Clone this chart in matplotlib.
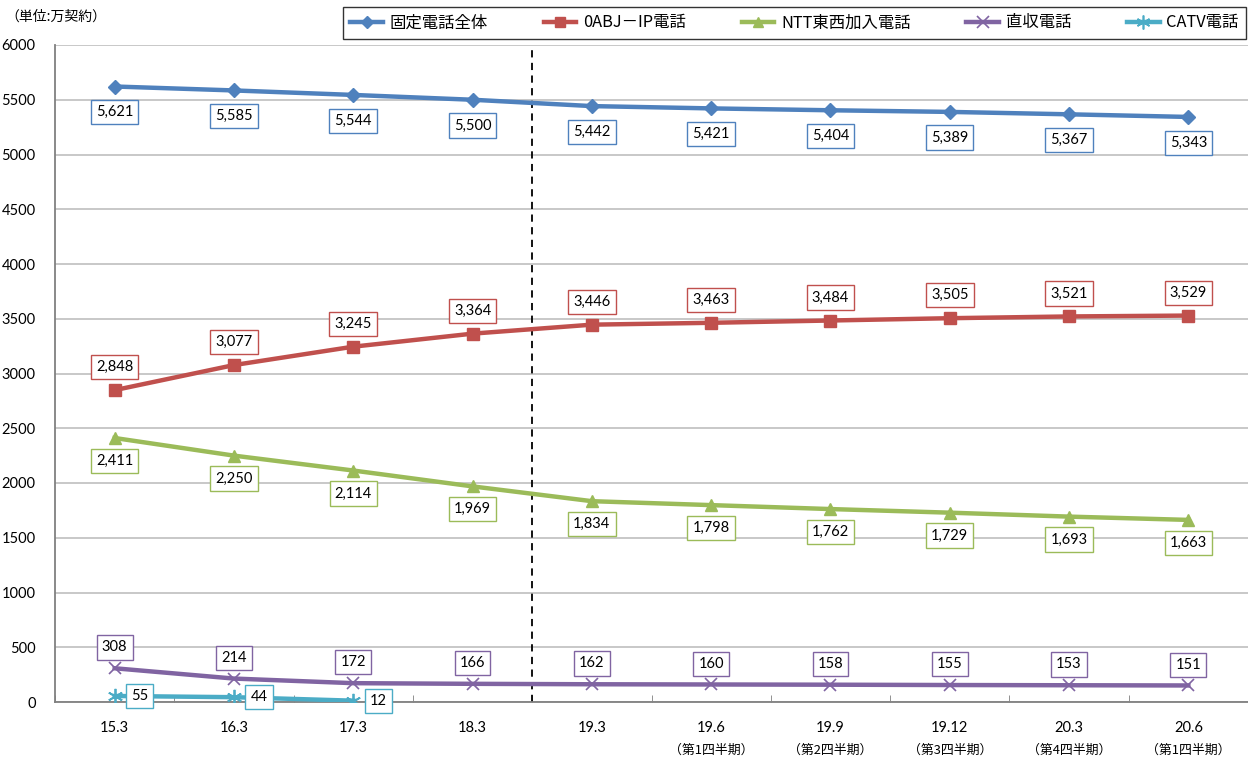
import matplotlib
matplotlib.use("Agg")
import matplotlib.pyplot as plt
from matplotlib.lines import Line2D
import matplotlib.transforms as mtrans

categories = ["15.3", "16.3", "17.3", "18.3", "19.3", "19.6", "19.9", "19.12", "20.3", "20.6"]
sublabels = ["", "", "", "", "", "（第1四半期）", "（第2四半期）", "（第3四半期）", "（第4四半期）", "（第1四半期）"]
total = [5621, 5585, 5544, 5500, 5442, 5421, 5404, 5389, 5367, 5343]
ip_phone = [2848, 3077, 3245, 3364, 3446, 3463, 3484, 3505, 3521, 3529]
ntt_phone = [2411, 2250, 2114, 1969, 1834, 1798, 1762, 1729, 1693, 1663]
direct_phone = [308, 214, 172, 166, 162, 160, 158, 155, 153, 151]
catv_phone = [55, 44, 12]
series_names = ["固定電話全体", "0ABJ－IP電話", "NTT東西加入電話", "直収電話", "CATV電話"]
yticks = [0, 500, 1000, 1500, 2000, 2500, 3000, 3500, 4000, 4500, 5000, 5500, 6000]

colors = ["#4F81BD", "#C0504D", "#9BBB59", "#8064A2", "#4BACC6"]
markers = ["D", "s", "^", "x", "*"]
msizes = [7, 8, 8, 9, 10]
JP = ["Noto Sans CJK JP", "DejaVu Sans"]
NUM = ["Lato", "Noto Sans CJK JP", "DejaVu Sans"]

fig = plt.figure(figsize=(12.48, 7.61), dpi=100)
ax = fig.add_axes([55 / 1248, 59 / 761, 1193 / 1248, 657 / 761])

data = [total, ip_phone, ntt_phone, direct_phone, catv_phone]
# label offsets (points): (dx, dy)
offsets = [(0, -18.5), (0, 16.5), (0, -16.5), (0, 15), (18, 0)]

for i, ser in enumerate(data):
    xs = list(range(len(ser)))
    mk = markers[i]
    if mk == "*":
        ax.plot(xs, ser, color=colors[i], lw=3.2, zorder=3)
        ax.plot(xs, ser, linestyle="none", marker=(6, 2, 0), ms=11, mec=colors[i],
                mew=1.3, zorder=4)
    elif mk == "x":
        ax.plot(xs, ser, color=colors[i], lw=3.2, zorder=3)
        ax.plot(xs, ser, linestyle="none", marker="x", ms=9, mec=colors[i], mew=1.2, zorder=4)
    else:
        ax.plot(xs, ser, color=colors[i], lw=3.2, marker=mk, ms=msizes[i],
                mfc=colors[i], mec=colors[i], zorder=3)
    dx, dy = offsets[i]
    for x, v in zip(xs, ser):
        ax.annotate(f"{v:,}", (x, v), xytext=(dx, dy), textcoords="offset points",
                    ha="center", va="center", fontsize=10.5, family=NUM, color="black",
                    bbox=dict(boxstyle="square,pad=0.35", fc="white", ec=colors[i], lw=1.0),
                    zorder=6)

ax.axvline(3.5, color="black", lw=1.3, ls=(0, (4, 3)), zorder=2)

ax.set_xlim(-0.484, 9.467)
ax.set_ylim(0, 6000)
ax.set_yticks(yticks)
ax.set_yticklabels([str(t) for t in yticks], family=NUM, fontsize=10.5)
ax.yaxis.grid(True, color="#BFBFBF", lw=1.2)
ax.set_axisbelow(True)
ax.tick_params(axis="y", length=0, pad=14)

ax.set_xticks(range(len(categories)))
ax.set_xticklabels(categories, family=NUM, fontsize=10.5)
ax.set_xticks([i + 0.5 for i in range(-1, len(categories))], minor=True)
ax.tick_params(axis="x", which="major", length=0, pad=14)
ax.tick_params(axis="x", which="minor", length=5, direction="in", color="#808080")

trans = mtrans.blended_transform_factory(ax.transData, fig.transFigure)
for i, s in enumerate(sublabels):
    if s:
        ax.text(i, (761 - 750) / 761, s, transform=trans,
                ha="center", va="center", fontsize=9.3, family=JP)

for sp in ["top", "right"]:
    ax.spines[sp].set_visible(False)
ax.spines["left"].set_color("#808080")
ax.spines["bottom"].set_color("#808080")
ax.spines["left"].set_linewidth(1.3)
ax.spines["bottom"].set_linewidth(1.3)

fig.text(5 / 1248, 1 - 17 / 761, "（単位:万契約）", fontsize=10, family=JP, ha="left", va="center")

handles = []
for i in range(5):
    if markers[i] == "*":
        h = Line2D([], [], color=colors[i], lw=3.2, marker=(6, 2, 0), ms=10, mec=colors[i], mew=1.2)
    elif markers[i] == "x":
        h = Line2D([], [], color=colors[i], lw=3.2, marker="x", ms=8, mec=colors[i], mew=1.2)
    else:
        h = Line2D([], [], color=colors[i], lw=3.2, marker=markers[i], ms=msizes[i] - 1,
                   mfc=colors[i], mec=colors[i])
    handles.append(h)
leg = fig.legend(handles, series_names, loc="center", ncol=5,
                 bbox_to_anchor=((349 + 1240) / 2 / 1248, 1 - 23 / 761),
                 frameon=True, fancybox=False, edgecolor="black",
                 prop={"family": JP, "size": 11.8}, handlelength=2.0, columnspacing=3.4,
                 handletextpad=0.4, borderpad=0.45, borderaxespad=0)
leg.get_frame().set_linewidth(1.0)

fig.savefig("out.png", dpi=100)
